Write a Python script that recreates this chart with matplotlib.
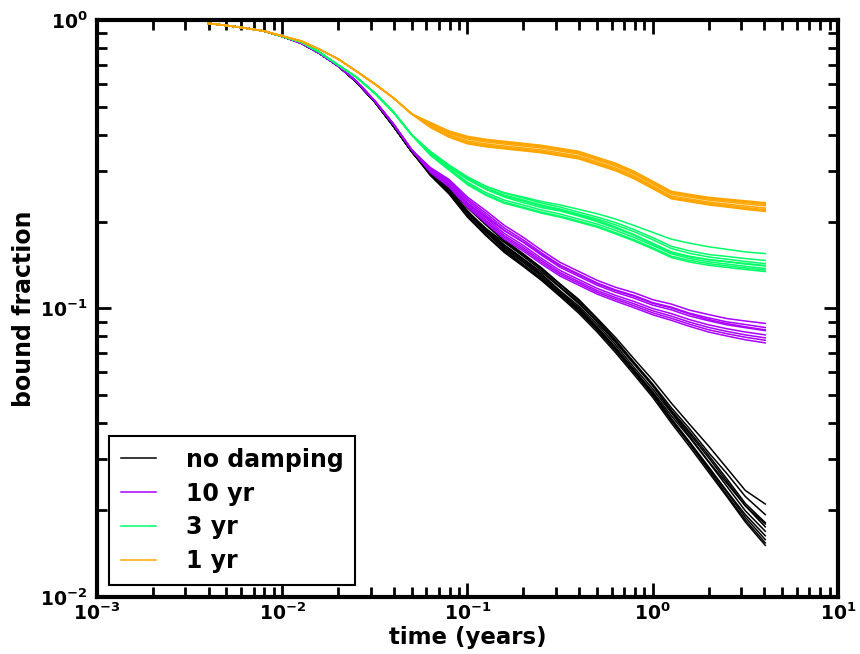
import matplotlib
matplotlib.use("Agg")
import matplotlib.pyplot as plt
from matplotlib.ticker import LogLocator, NullFormatter

plt.rcParams['font.family'] = ['DejaVu Sans']
plt.rcParams['font.weight'] = 'bold'
plt.rcParams['mathtext.default'] = 'bf'
plt.rcParams['axes.unicode_minus'] = False

# time grid (years)
time = [0.00398, 0.00501, 0.00631, 0.00794, 0.0100, 0.0126, 0.0158, 0.0200,
        0.0251, 0.0316, 0.0398, 0.0501, 0.0631, 0.0794, 0.100, 0.126, 0.158,
        0.200, 0.251, 0.316, 0.398, 0.501, 0.631, 0.794, 1.00, 1.26, 1.58,
        2.00, 2.51, 3.16, 4.05]

labels = ["no damping", "10 yr", "3 yr", "1 yr"]
colors = ["#000000", "#AA00FF", "#00FF66", "#FFA500"]

# shared early part of each group (the runs coincide there), t <= 0.05 yr
early_none = [0.974, 0.957, 0.938, 0.916, 0.877, 0.832, 0.768, 0.693, 0.610, 0.520, 0.429, 0.349]
early_10 = [0.974, 0.957, 0.938, 0.916, 0.877, 0.832, 0.768, 0.693, 0.614, 0.524, 0.436, 0.354]
early_3 = [0.974, 0.957, 0.938, 0.916, 0.877, 0.839, 0.775, 0.699, 0.634, 0.558, 0.480, 0.399]
early_1 = [0.974, 0.957, 0.938, 0.916, 0.880, 0.846, 0.793, 0.733, 0.665, 0.600, 0.537, 0.472]

# later part, one list per run (t = 0.063 ... 4 yr)
runs_none = [
    [0.3008, 0.2651, 0.2246, 0.1955, 0.1729, 0.1547, 0.1383, 0.1217, 0.1076, 0.0925, 0.0792, 0.0668, 0.0565, 0.0470, 0.0397, 0.0334, 0.0280, 0.0234, 0.0210],
    [0.2890, 0.2497, 0.2074, 0.1787, 0.1565, 0.1399, 0.1251, 0.1101, 0.0964, 0.0829, 0.0702, 0.0589, 0.0492, 0.0401, 0.0332, 0.0271, 0.0223, 0.0182, 0.0151],
    [0.2931, 0.2551, 0.2138, 0.1890, 0.1696, 0.1517, 0.1357, 0.1191, 0.1051, 0.0899, 0.0762, 0.0640, 0.0539, 0.0444, 0.0374, 0.0310, 0.0257, 0.0211, 0.0181],
    [0.2973, 0.2605, 0.2182, 0.1852, 0.1598, 0.1421, 0.1271, 0.1124, 0.0984, 0.0842, 0.0713, 0.0599, 0.0500, 0.0409, 0.0343, 0.0280, 0.0231, 0.0189, 0.0158],
    [0.2961, 0.2589, 0.2177, 0.1890, 0.1663, 0.1488, 0.1337, 0.1182, 0.1040, 0.0899, 0.0769, 0.0649, 0.0547, 0.0453, 0.0383, 0.0317, 0.0268, 0.0223, 0.0193],
    [0.2937, 0.2559, 0.2143, 0.1852, 0.1631, 0.1461, 0.1304, 0.1145, 0.1005, 0.0864, 0.0732, 0.0611, 0.0510, 0.0416, 0.0345, 0.0283, 0.0233, 0.0193, 0.0163],
    [0.2993, 0.2638, 0.2236, 0.1946, 0.1713, 0.1532, 0.1376, 0.1211, 0.1066, 0.0916, 0.0777, 0.0649, 0.0542, 0.0440, 0.0368, 0.0304, 0.0252, 0.0207, 0.0179],
    [0.2920, 0.2535, 0.2128, 0.1834, 0.1614, 0.1444, 0.1288, 0.1130, 0.0995, 0.0855, 0.0725, 0.0605, 0.0505, 0.0409, 0.0339, 0.0276, 0.0226, 0.0185, 0.0154],
    [0.2949, 0.2587, 0.2149, 0.1862, 0.1647, 0.1480, 0.1317, 0.1153, 0.1020, 0.0881, 0.0747, 0.0624, 0.0526, 0.0435, 0.0361, 0.0295, 0.0248, 0.0207, 0.0175],
    [0.2905, 0.2510, 0.2095, 0.1806, 0.1581, 0.1414, 0.1264, 0.1113, 0.0979, 0.0846, 0.0725, 0.0611, 0.0515, 0.0425, 0.0357, 0.0294, 0.0242, 0.0199, 0.0169],
]
runs_10 = [
    [0.3080, 0.2804, 0.2433, 0.2180, 0.1942, 0.1765, 0.1592, 0.1445, 0.1345, 0.1252, 0.1184, 0.1134, 0.1073, 0.1036, 0.0987, 0.0953, 0.0923, 0.0905, 0.0888],
    [0.2960, 0.2640, 0.2245, 0.1972, 0.1740, 0.1581, 0.1426, 0.1295, 0.1205, 0.1122, 0.1060, 0.1006, 0.0951, 0.0910, 0.0867, 0.0829, 0.0803, 0.0779, 0.0760],
    [0.3056, 0.2771, 0.2395, 0.2138, 0.1902, 0.1728, 0.1559, 0.1415, 0.1317, 0.1226, 0.1159, 0.1109, 0.1048, 0.1011, 0.0963, 0.0928, 0.0899, 0.0880, 0.0859],
    [0.2990, 0.2681, 0.2292, 0.2024, 0.1790, 0.1627, 0.1468, 0.1332, 0.1240, 0.1154, 0.1091, 0.1038, 0.0982, 0.0941, 0.0897, 0.0860, 0.0833, 0.0810, 0.0791],
    [0.3035, 0.2742, 0.2362, 0.2102, 0.1867, 0.1696, 0.1530, 0.1389, 0.1293, 0.1204, 0.1138, 0.1086, 0.1027, 0.0989, 0.0942, 0.0907, 0.0878, 0.0858, 0.0838],
    [0.3008, 0.2706, 0.2320, 0.2055, 0.1821, 0.1655, 0.1492, 0.1355, 0.1261, 0.1174, 0.1110, 0.1057, 0.1000, 0.0960, 0.0915, 0.0878, 0.0851, 0.0829, 0.0810],
    [0.3002, 0.2698, 0.2320, 0.2076, 0.1861, 0.1700, 0.1542, 0.1408, 0.1311, 0.1220, 0.1153, 0.1102, 0.1042, 0.1004, 0.0957, 0.0916, 0.0887, 0.0864, 0.0843],
    [0.2975, 0.2661, 0.2269, 0.1998, 0.1766, 0.1604, 0.1447, 0.1314, 0.1223, 0.1138, 0.1076, 0.1022, 0.0966, 0.0925, 0.0882, 0.0844, 0.0818, 0.0795, 0.0776],
]
runs_3 = [
    [0.3494, 0.3140, 0.2858, 0.2651, 0.2519, 0.2433, 0.2349, 0.2286, 0.2207, 0.2131, 0.2041, 0.1939, 0.1836, 0.1739, 0.1684, 0.1637, 0.1604, 0.1571, 0.1550],
    [0.3397, 0.3020, 0.2688, 0.2466, 0.2317, 0.2227, 0.2140, 0.2073, 0.1992, 0.1914, 0.1813, 0.1714, 0.1608, 0.1502, 0.1449, 0.1412, 0.1388, 0.1365, 0.1343],
    [0.3501, 0.3144, 0.2855, 0.2646, 0.2512, 0.2414, 0.2320, 0.2247, 0.2159, 0.2074, 0.1985, 0.1877, 0.1761, 0.1643, 0.1584, 0.1539, 0.1515, 0.1490, 0.1467],
    [0.3428, 0.3057, 0.2738, 0.2520, 0.2376, 0.2283, 0.2194, 0.2125, 0.2042, 0.1962, 0.1864, 0.1763, 0.1654, 0.1547, 0.1491, 0.1452, 0.1426, 0.1400, 0.1376],
    [0.3480, 0.3119, 0.2821, 0.2610, 0.2473, 0.2376, 0.2284, 0.2212, 0.2125, 0.2042, 0.1950, 0.1845, 0.1731, 0.1614, 0.1553, 0.1509, 0.1482, 0.1455, 0.1431],
    [0.3407, 0.3032, 0.2704, 0.2484, 0.2337, 0.2245, 0.2158, 0.2090, 0.2008, 0.1930, 0.1830, 0.1730, 0.1624, 0.1518, 0.1468, 0.1431, 0.1406, 0.1382, 0.1359],
    [0.3459, 0.3094, 0.2802, 0.2587, 0.2434, 0.2327, 0.2237, 0.2177, 0.2092, 0.2000, 0.1897, 0.1794, 0.1675, 0.1563, 0.1511, 0.1474, 0.1451, 0.1426, 0.1404],
    [0.3469, 0.3106, 0.2805, 0.2592, 0.2453, 0.2358, 0.2266, 0.2194, 0.2109, 0.2020, 0.1916, 0.1803, 0.1683, 0.1571, 0.1517, 0.1479, 0.1455, 0.1432, 0.1409],
]
runs_1 = [
    [0.4413, 0.4126, 0.3952, 0.3859, 0.3798, 0.3738, 0.3678, 0.3592, 0.3506, 0.3342, 0.3187, 0.2989, 0.2761, 0.2548, 0.2487, 0.2429, 0.2395, 0.2362, 0.2327],
    [0.4239, 0.3924, 0.3722, 0.3635, 0.3576, 0.3520, 0.3464, 0.3382, 0.3302, 0.3148, 0.3001, 0.2815, 0.2601, 0.2400, 0.2343, 0.2287, 0.2247, 0.2206, 0.2169],
    [0.4378, 0.4085, 0.3906, 0.3814, 0.3753, 0.3694, 0.3635, 0.3550, 0.3465, 0.3303, 0.3150, 0.2954, 0.2729, 0.2519, 0.2458, 0.2400, 0.2365, 0.2330, 0.2295],
    [0.4274, 0.3965, 0.3768, 0.3680, 0.3621, 0.3564, 0.3507, 0.3424, 0.3343, 0.3187, 0.3038, 0.2850, 0.2633, 0.2429, 0.2372, 0.2316, 0.2277, 0.2238, 0.2201],
    [0.4348, 0.4049, 0.3866, 0.3775, 0.3715, 0.3656, 0.3598, 0.3513, 0.3430, 0.3269, 0.3117, 0.2924, 0.2701, 0.2493, 0.2433, 0.2376, 0.2340, 0.2303, 0.2268],
    [0.4304, 0.4001, 0.3808, 0.3719, 0.3659, 0.3602, 0.3544, 0.3461, 0.3378, 0.3221, 0.3071, 0.2880, 0.2661, 0.2455, 0.2397, 0.2340, 0.2302, 0.2265, 0.2228],
    [0.4395, 0.4106, 0.3929, 0.3837, 0.3775, 0.3716, 0.3657, 0.3571, 0.3486, 0.3323, 0.3168, 0.2972, 0.2745, 0.2533, 0.2473, 0.2415, 0.2381, 0.2346, 0.2311],
    [0.4257, 0.3945, 0.3745, 0.3657, 0.3599, 0.3542, 0.3485, 0.3403, 0.3322, 0.3167, 0.3020, 0.2832, 0.2617, 0.2415, 0.2357, 0.2301, 0.2261, 0.2222, 0.2185],
]

groups = [(early_none, runs_none), (early_10, runs_10),
          (early_3, runs_3), (early_1, runs_1)]

fig = plt.figure(figsize=(8.6, 6.54), dpi=100)
ax = fig.add_axes([0.1128, 0.0872, 0.8616, 0.8822])

for (early, runs), lab, col in zip(groups, labels, colors):
    for i, r in enumerate(runs):
        ax.plot(time, early + r, color=col, lw=1.1,
                label=lab if i == 0 else None)

ax.set_xscale('log')
ax.set_yscale('log')
ax.set_xlim(1e-3, 1e1)
ax.set_ylim(1e-2, 1)
ax.set_xlabel('time (years)', fontsize=16.5, fontweight='bold')
ax.set_ylabel('bound fraction', fontsize=17, fontweight='bold')
ax.xaxis.set_label_coords(0.5, -0.051)
ax.yaxis.set_label_coords(-0.083, 0.5)

ax.xaxis.set_major_locator(LogLocator(base=10, numticks=10))
ax.yaxis.set_major_locator(LogLocator(base=10, numticks=10))
ax.xaxis.set_minor_locator(LogLocator(base=10, subs=range(2, 10), numticks=10))
ax.yaxis.set_minor_locator(LogLocator(base=10, subs=range(2, 10), numticks=10))
ax.xaxis.set_minor_formatter(NullFormatter())
ax.yaxis.set_minor_formatter(NullFormatter())

ax.tick_params(which='both', direction='in', top=True, right=True,
               labelsize=13.5, width=2)
ax.tick_params(which='major', length=10)
ax.tick_params(which='minor', length=7)
ax.tick_params(axis='x', which='major', pad=4)
ax.tick_params(axis='y', which='major', pad=7)
for s in ax.spines.values():
    s.set_linewidth(3)

leg = ax.legend(loc='lower left', fontsize=17, frameon=True, fancybox=False,
                edgecolor='black', framealpha=1, handlelength=1.5,
                handletextpad=1.25, borderpad=0.5, borderaxespad=0.5,
                labelspacing=0.42)
leg.get_frame().set_linewidth(1.5)
for t in leg.get_texts():
    t.set_fontweight('bold')

fig.savefig('out.png', dpi=100)
